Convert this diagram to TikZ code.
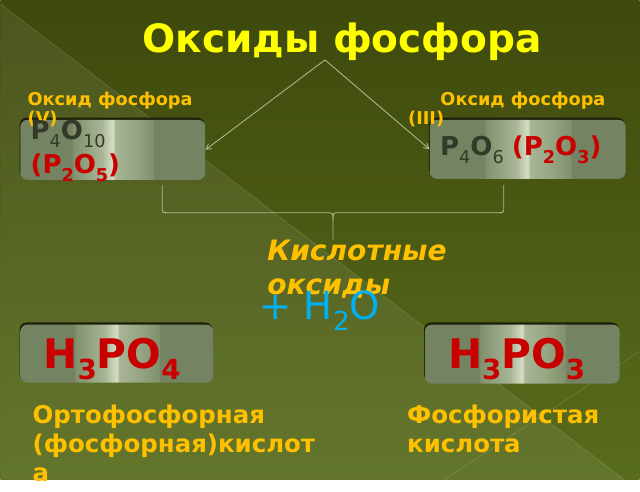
\documentclass[tikz,border=0pt]{standalone}
\usepackage{fontspec}
\setmainfont{DejaVu Sans}
\usetikzlibrary{arrows}
\usetikzlibrary{shadows}
\usepackage{xcolor}

\definecolor{bgtop}{RGB}{62,73,12}
\definecolor{bgbottom}{RGB}{88,108,28}
\definecolor{boxbase}{RGB}{116,131,98}
\definecolor{bandlo}{RGB}{128,145,110}
\definecolor{bandmid}{RGB}{168,182,150}
\definecolor{bandsoft}{RGB}{150,165,130}
\definecolor{bandhi}{RGB}{214,222,198}
\definecolor{boxedge}{RGB}{28,32,10}
\definecolor{titleyellow}{RGB}{255,255,0}
\definecolor{labelorange}{RGB}{255,192,0}
\definecolor{formred}{RGB}{200,0,0}
\definecolor{formgray}{RGB}{52,58,40}
\definecolor{watercyan}{RGB}{0,176,240}
\definecolor{lineclr}{RGB}{176,186,146}

\pgfdeclarehorizontalshading{metal}{100bp}{color(0bp)=(boxbase); color(39bp)=(boxbase);
  color(39.2bp)=(bandlo); color(47bp)=(bandmid); color(50bp)=(bandhi); color(50.6bp)=(bandmid);
  color(56bp)=(bandsoft); color(61bp)=(bandlo); color(61.2bp)=(boxbase); color(100bp)=(boxbase)}

\newcommand{\idx}[1]{\raisebox{-0.28em}{\scalebox{0.68}{#1}}}

\begin{document}
\begin{tikzpicture}[x=0.025cm, y=-0.025cm,
  oxbox/.style={rounded corners=5pt, shading=metal, minimum width=#1, inner sep=0pt,
    drop shadow={shadow xshift=-0.6pt, shadow yshift=1.5pt, opacity=1, fill=boxedge}},
  txt/.style={anchor=base west, inner sep=0pt, align=left},
  link/.style={lineclr, line width=0.6pt}]
% background
\shade[top color=bgtop, bottom color=bgbottom] (0,0) rectangle (640,480);
\fill[white, opacity=0.07] (0,4) -- (640,492) -- (0,480) -- cycle;
\draw[white, opacity=0.12, line width=0.6pt] (0,4) -- (640,492);
\draw[white, opacity=0.12, line width=0.6pt] (640,352) -- (445,480);
\useasboundingbox (0,0) rectangle (640,480);

% boxes
\node[oxbox=4.625cm, minimum height=1.5cm] (oxL) at (112.5,150) {};
\node[oxbox=4.9cm, minimum height=1.475cm] (oxR) at (528,149.5) {};
\node[oxbox=4.825cm, minimum height=1.45cm] (acL) at (116.5,354) {};
\node[oxbox=4.875cm, minimum height=1.475cm] (acR) at (522.5,354.5) {};

\node[anchor=base, inner sep=0pt, text=titleyellow, font=\bfseries\fontsize{27.8}{32}\selectfont] (ttl) at (342,53) {Оксиды фосфора};

% multi-line texts are placed by the baseline of their last line
\node[txt, text=labelorange, font=\bfseries\fontsize{12.6}{13.5}\selectfont] (labL) at (27,125) {Оксид фосфора\\(V)};
\node[txt, text=labelorange, font=\bfseries\fontsize{12.6}{13.5}\selectfont] (labR) at (408,125) {\hspace*{23pt}Оксид фосфора\\(III)};

% formulas
\node[txt, text=formgray, font=\fontsize{18.5}{22}\selectfont] (fL) at (30,140) {\textbf{P}\idx{4}\textbf{O}\idx{10}};
\node[txt, text=formred, font=\bfseries\fontsize{18.5}{22}\selectfont] (fL2) at (30,174) {(P\idx{2}O\idx{5})};
\node[txt, font=\fontsize{18.5}{22}\selectfont] (fR) at (440,156) {\textcolor{formgray}{\textbf{P}\idx{4}\textbf{O}\idx{6}} \textcolor{formred}{\bfseries(P\idx{2}O\idx{3})}};

\coordinate (apex) at (325,60);
\draw[link, ->, >=angle 60] (apex) -- (oxL.east);
\draw[link, ->, >=angle 60] (apex) -- (oxR.west);

% brace
\coordinate (brL) at (162,185);
\coordinate (brR) at (504,185);
\coordinate (brTip) at (333,240);
\draw[link] (brL) -- (162,207) .. controls (162,213) .. (168,213) -- (326,213) .. controls (333,213) .. (333,220) -- (brTip);
\draw[link] (brR) -- (504,207) .. controls (504,213) .. (498,213) -- (340,213) .. controls (333,213) .. (333,220);

\node[txt, text=labelorange, font=\bfseries\itshape\fontsize{20}{24}\selectfont] (kisl) at (267,295) {Кислотные\\ оксиды};
\node[txt, text=watercyan, font=\fontsize{27.5}{30}\selectfont] (water) at (259,320) {+ H\idx{2}O};

\node[txt, text=formred, font=\bfseries\fontsize{29}{32}\selectfont] (hL) at (43,369) {H\idx{3}PO\idx{4}};
\node[txt, text=formred, font=\bfseries\fontsize{29}{32}\selectfont] (hR) at (448,369) {H\idx{3}PO\idx{3}};

\node[txt, text=labelorange, font=\bfseries\fontsize{17.4}{20.6}\selectfont] (nmL) at (32,482) {Ортофосфорная\\(фосфорная)кислот\\а};
\node[txt, text=labelorange, font=\bfseries\fontsize{17.4}{20.6}\selectfont] (nmR) at (407,453) {Фосфористая\\кислота};
\end{tikzpicture}
\end{document}
